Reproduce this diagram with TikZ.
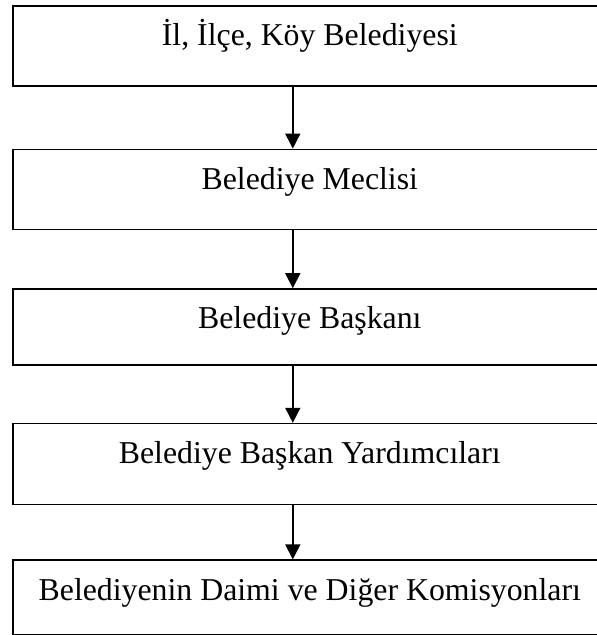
\documentclass[tikz,border=0pt]{standalone}
\usepackage{fontspec}
\setmainfont{Liberation Serif}
\usetikzlibrary{arrows.meta, positioning}

\begin{document}
\begin{tikzpicture}[x=1pt, y=1pt,
  box/.style={draw, line width=1.6pt, minimum width=594pt, inner sep=0pt,
    font=\fontsize{31.8}{36}\selectfont, text height=40pt},
  arr/.style={line width=1.6pt, -{Triangle[length=15pt, width=15pt]}}]
\clip (0,0) rectangle (597,635);

% Boxes
\node[box, text depth=40pt, anchor=north west] (il) at (12,630) {İl, İlçe, Köy Belediyesi};
\node[box, text depth=40pt, below=62pt of il] (meclis) {Belediye Meclisi};
\node[box, text depth=36pt, below=58pt of meclis] (baskan) {Belediye Başkanı};
\node[box, text depth=41pt, below=57pt of baskan] (yard) {Belediye Başkan Yardımcıları};
\node[box, text depth=35pt, below=54pt of yard] (komisyon) {Belediyenin Daimi ve Diğer Komisyonları};

% Arrows
\draw[arr] ([xshift=-17pt]il.south) -- ([xshift=-17pt]meclis.north);
\draw[arr] ([xshift=-17pt]meclis.south) -- ([xshift=-17pt]baskan.north);
\draw[arr] ([xshift=-17pt]baskan.south) -- ([xshift=-17pt]yard.north);
\draw[arr] ([xshift=-17pt]yard.south) -- ([xshift=-17pt]komisyon.north);
\end{tikzpicture}
\end{document}
